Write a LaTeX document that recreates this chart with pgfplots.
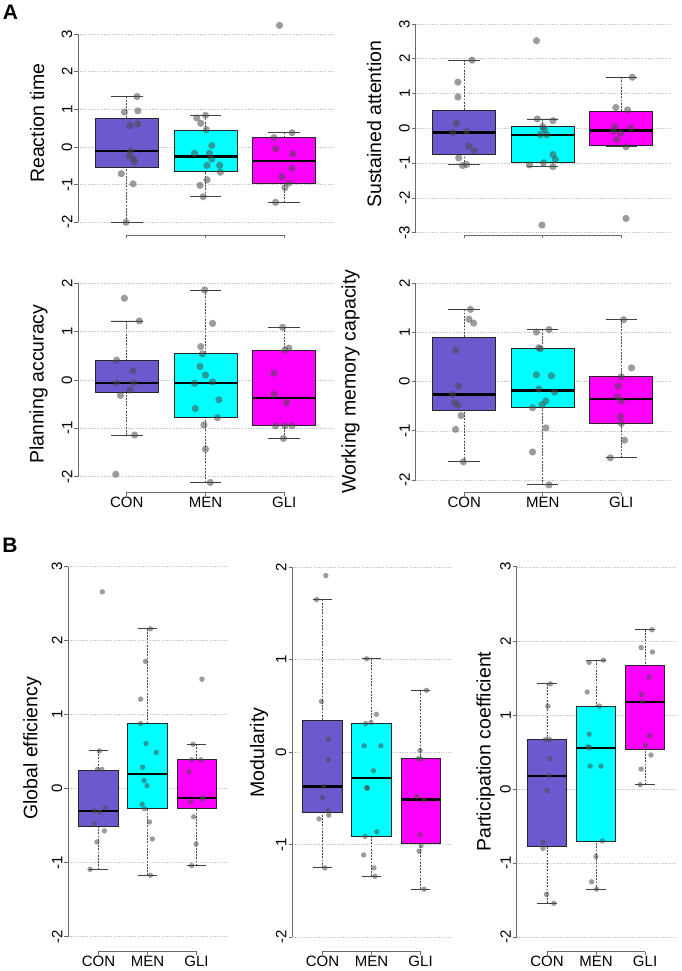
\documentclass[border=0pt]{standalone}
\usepackage{pgfplots}
\pgfplotsset{compat=1.18}
\usepgfplotslibrary{statistics}
\usepackage{fontspec}
\setmainfont{Liberation Sans}
\definecolor{conc}{HTML}{6A5ACD}
\definecolor{menc}{HTML}{00FFFF}
\definecolor{glic}{HTML}{FF00FF}
\definecolor{ptc}{HTML}{4A4A4A}
\definecolor{axc}{HTML}{6A6A6A}
\definecolor{gridc}{HTML}{C4C4C4}
\newcommand\tickfont{\fontsize{15bp}{16bp}\selectfont}
\newcommand\labfont{\fontsize{19.5bp}{22bp}\selectfont}
\pgfplotsset{
  rpanel/.style={
    scale only axis, clip=false, anchor=south west,
    xmin=0.38, xmax=3.62,
    axis x line*=bottom, axis y line*=left,
    axis line style={draw=none},
    xtick={1,2,3},
    tick align=outside, major tick length=3.5bp,
    tick style={axc, line width=0.8bp},
    ymajorgrids, grid style={gridc, dash pattern=on 1.2bp off 1.2bp, line width=0.6bp},
    yticklabel style={font=\tickfont, rotate=90, anchor=south, inner xsep=0pt, inner ysep=2bp},
    xticklabel style={font=\tickfont, anchor=north, inner sep=0pt, yshift=-1bp},
  },
  rbox/.style={
    draw=black!85, line width=0.8bp,
    boxplot/draw direction=y,
    boxplot/box extend=0.8, boxplot/whisker extend=0.4,
    boxplot/every median/.style={line width=2.2bp, draw=black},
    boxplot/draw/lower whisker/.code={%
      \draw[black!70, line width=0.7bp, dash pattern=on 1.8bp off 1.4bp]
        (boxplot box cs:\pgfplotsboxplotvalue{lower whisker},0.5) --
        (boxplot box cs:\pgfplotsboxplotvalue{lower quartile},0.5);
      \draw[black!75, line width=0.9bp]
        (boxplot whisker cs:\pgfplotsboxplotvalue{lower whisker},0) --
        (boxplot whisker cs:\pgfplotsboxplotvalue{lower whisker},1);
    },
    boxplot/draw/upper whisker/.code={%
      \draw[black!70, line width=0.7bp, dash pattern=on 1.8bp off 1.4bp]
        (boxplot box cs:\pgfplotsboxplotvalue{upper whisker},0.5) --
        (boxplot box cs:\pgfplotsboxplotvalue{upper quartile},0.5);
      \draw[black!75, line width=0.9bp]
        (boxplot whisker cs:\pgfplotsboxplotvalue{upper whisker},0) --
        (boxplot whisker cs:\pgfplotsboxplotvalue{upper whisker},1);
    },
  },
  ptsA/.style={only marks, mark=*, draw opacity=0, mark size=3.6bp, mark options={solid, draw opacity=0, fill=ptc, fill opacity=0.55}},
  ptsB/.style={only marks, mark=*, draw opacity=0, mark size=2.7bp, mark options={solid, draw opacity=0, fill=ptc, fill opacity=0.55}},
}
% draw position, lower whisker, lower quartile, median, upper quartile, upper whisker, colour
\newcommand\rb[7]{\addplot[rbox, fill=#7, boxplot prepared={draw position=#1, lower whisker=#2, lower quartile=#3, median=#4, upper quartile=#5, upper whisker=#6}] coordinates {};}
\begin{document}
\begin{tikzpicture}
\path[use as bounding box] (0,0) rectangle (682bp,971bp);

% ---------- A1 Reaction time
\begin{axis}[rpanel, at={(78bp,736bp)}, width=255bp, height=217.9bp,
  ymin=-2.337, ymax=3.45, ytick={-2,-1,0,1,2,3}, yticklabels={-2,-1,0,1,2,3}, xticklabels={,,}]
\rb{1}{-2.0}{-0.54}{-0.10}{0.77}{1.34}{conc}
\rb{2}{-1.32}{-0.66}{-0.25}{0.45}{0.84}{menc}
\rb{3}{-1.47}{-0.97}{-0.37}{0.25}{0.38}{glic}
\addplot[ptsA] coordinates {(1.13,1.34) (0.97,0.93) (1.14,0.96) (1.04,0.57) (1.14,0.61) (1.05,-0.10) (1.03,-0.23) (1.08,-0.32) (1.10,-0.39) (0.93,-0.71) (1.08,-0.98) (0.99,-2.00)
(1.89,0.77) (1.94,0.63) (2.00,0.84) (2.01,0.46) (2.08,0.04) (1.86,-0.17) (2.05,-0.17) (2.08,-0.32) (2.02,-0.49) (2.18,-0.49) (2.19,-0.67) (2.02,-0.87) (1.93,-1.02) (1.97,-1.32)
(2.94,3.23) (3.10,0.38) (2.87,0.25) (2.89,-0.05) (3.11,-0.18) (3.10,-0.57) (2.97,-0.79) (3.06,-0.96) (3.01,-1.08) (2.89,-1.47)};
\draw[axc, line width=0.8bp] (axis cs:0.38,-2) -- (axis cs:0.38,3);
\draw[axc, line width=0.8bp] (axis cs:1,-2.337) -- (axis cs:3,-2.337);
\end{axis}

% ---------- A2 Sustained attention
\begin{axis}[rpanel, at={(415.5bp,736bp)}, width=254.5bp, height=221.4bp,
  ymin=-3.066, ymax=3.3, ytick={-3,-2,-1,0,1,2,3}, yticklabels={-3,-2,-1,0,1,2,3}, xticklabels={,,}]
\rb{1}{-1.05}{-0.74}{-0.12}{0.53}{1.96}{conc}
\rb{2}{-1.10}{-0.98}{-0.18}{0.05}{0.27}{menc}
\rb{3}{-0.53}{-0.50}{-0.06}{0.49}{1.47}{glic}
\addplot[ptsA] coordinates {(1.10,1.96) (0.92,1.33) (0.92,0.90) (0.90,0.14) (0.85,-0.12) (1.03,-0.08) (1.06,-0.51) (1.13,-0.64) (0.93,-0.85) (0.98,-1.07) (1.03,-1.04)
(1.92,2.52) (1.93,0.27) (2.13,0.22) (2.00,0.05) (2.02,-0.03) (1.97,-0.18) (2.05,-0.18) (2.13,-0.75) (2.16,-0.89) (2.01,-0.99) (1.83,-1.05) (2.13,-1.10) (1.99,-2.78)
(3.14,1.47) (2.93,0.60) (3.08,0.53) (2.92,0.05) (3.12,0.01) (2.90,-0.08) (2.94,-0.32) (3.06,-0.53) (3.06,-2.59) (2.99,-0.14)};
\draw[axc, line width=0.8bp] (axis cs:0.38,-3) -- (axis cs:0.38,3);
\draw[axc, line width=0.8bp] (axis cs:1,-3.066) -- (axis cs:3,-3.066);
\end{axis}

% ---------- A3 Planning accuracy
\begin{axis}[rpanel, at={(78bp,478.7bp)}, width=255bp, height=213.9bp,
  ymin=-2.323, ymax=2.1, ytick={-2,-1,0,1,2}, yticklabels={-2,-1,0,1,2}, xticklabels={CON,MEN,GLI}]
\rb{1}{-1.14}{-0.26}{-0.06}{0.40}{1.22}{conc}
\rb{2}{-2.12}{-0.77}{-0.06}{0.54}{1.86}{menc}
\rb{3}{-1.21}{-0.95}{-0.37}{0.61}{1.09}{glic}
\addplot[ptsA] coordinates {(0.97,1.69) (1.16,1.22) (0.87,0.41) (1.08,0.19) (0.87,-0.06) (1.09,-0.06) (1.04,-0.21) (0.92,-0.32) (1.10,-1.14) (0.86,-1.95)
(1.99,1.86) (2.09,1.17) (1.94,0.69) (1.96,0.54) (1.93,0.28) (2.00,0.10) (1.86,-0.07) (2.09,-0.04) (2.17,-0.41) (1.87,-0.59) (2.15,-0.78) (1.98,-0.93) (2.00,-1.43) (2.06,-2.12)
(2.98,1.09) (3.06,0.66) (3.01,0.62) (2.87,0.14) (2.87,-0.30) (3.03,-0.47) (2.89,-0.95) (3.01,-0.95) (3.10,-0.95) (2.99,-1.21)};
\draw[axc, line width=0.8bp] (axis cs:0.38,-2) -- (axis cs:0.38,2);
\draw[axc, line width=0.8bp] (axis cs:1,-2.323) -- (axis cs:3,-2.323);
\end{axis}

% ---------- A4 Working memory capacity
\begin{axis}[rpanel, at={(415.5bp,478.3bp)}, width=254.5bp, height=214.3bp,
  ymin=-2.258, ymax=2.1, ytick={-2,-1,0,1,2}, yticklabels={-2,-1,0,1,2}, xticklabels={CON,MEN,GLI}]
\rb{1}{-1.63}{-0.58}{-0.26}{0.90}{1.47}{conc}
\rb{2}{-2.10}{-0.53}{-0.18}{0.68}{1.06}{menc}
\rb{3}{-1.55}{-0.85}{-0.35}{0.10}{1.26}{glic}
\addplot[ptsA] coordinates {(1.08,1.47) (1.06,1.27) (1.12,1.19) (0.89,0.64) (0.93,-0.09) (0.85,-0.26) (0.88,-0.43) (0.92,-0.48) (0.96,-0.69) (0.89,-0.97) (0.99,-1.63)
(2.08,1.06) (1.92,1.01) (1.95,0.69) (1.97,0.67) (1.92,0.14) (2.11,0.12) (1.95,-0.15) (2.15,-0.21) (2.04,-0.39) (1.99,-0.47) (1.87,-0.53) (2.04,-0.94) (1.87,-1.43) (2.08,-2.10)
(3.03,1.26) (3.13,0.28) (3.00,0.10) (2.96,-0.09) (2.95,-0.31) (3.00,-0.39) (2.99,-0.71) (3.00,-0.85) (3.04,-1.19) (2.86,-1.55)};
\draw[axc, line width=0.8bp] (axis cs:0.38,-2) -- (axis cs:0.38,2);
\draw[axc, line width=0.8bp] (axis cs:1,-2.258) -- (axis cs:3,-2.258);
\end{axis}

% ---------- B1 Global efficiency
\begin{axis}[rpanel, at={(68bp,19.3bp)}, width=159bp, height=392.4bp,
  ymin=-2.203, ymax=3.1, ytick={-2,-1,0,1,2,3}, yticklabels={-2,-1,0,1,2,3}, xticklabels={CON,MEN,GLI}]
\rb{1}{-1.09}{-0.51}{-0.30}{0.25}{0.51}{conc}
\rb{2}{-1.17}{-0.27}{0.20}{0.88}{2.16}{menc}
\rb{3}{-1.04}{-0.27}{-0.13}{0.39}{0.60}{glic}
\addplot[ptsB] coordinates {(1.08,2.66) (1.02,0.51) (0.98,0.26) (1.07,0.26) (0.92,-0.30) (1.03,-0.32) (1.14,-0.26) (0.92,-0.47) (1.12,-0.57) (0.97,-0.72) (0.83,-1.09)
(2.06,2.16) (1.96,1.72) (1.86,1.21) (1.86,0.88) (1.97,0.61) (2.18,0.49) (1.90,0.29) (1.93,0.11) (1.99,0.04) (1.89,-0.21) (1.94,-0.27) (2.04,-0.45) (2.10,-0.68) (2.06,-1.17)
(3.11,1.48) (2.93,0.60) (2.90,0.39) (3.09,0.39) (2.85,0.23) (2.88,-0.18) (3.11,-0.13) (3.14,-0.13) (2.94,-0.38) (2.99,-0.75) (2.90,-1.04)};
\draw[axc, line width=0.8bp] (axis cs:0.38,-2) -- (axis cs:0.38,3);
\draw[axc, line width=0.8bp] (axis cs:1,-2.203) -- (axis cs:3,-2.203);
\end{axis}

% ---------- B2 Modularity
\begin{axis}[rpanel, at={(292bp,19.3bp)}, width=159bp, height=393.7bp,
  ymin=-2.156, ymax=2.1, ytick={-2,-1,0,1,2}, yticklabels={-2,-1,0,1,2}, xticklabels={CON,MEN,GLI}]
\rb{1}{-1.25}{-0.65}{-0.37}{0.34}{1.65}{conc}
\rb{2}{-1.34}{-0.91}{-0.28}{0.31}{1.01}{menc}
\rb{3}{-1.48}{-0.98}{-0.51}{-0.07}{0.67}{glic}
\addplot[ptsB] coordinates {(1.07,1.91) (0.88,1.65) (0.98,0.55) (1.12,0.14) (1.12,-0.08) (1.02,-0.37) (1.00,-0.49) (1.12,-0.63) (1.13,-0.68) (0.93,-0.72) (1.05,-1.25)
(1.90,1.01) (2.10,0.41) (1.88,0.31) (1.99,0.32) (1.85,0.07) (2.19,0.07) (2.04,-0.20) (1.90,-0.38) (1.92,-0.39) (2.11,-0.86) (1.87,-0.91) (1.84,-1.11) (2.05,-1.25) (2.07,-1.34)
(3.12,0.67) (2.99,0.02) (2.95,-0.07) (3.00,-0.07) (2.93,-0.48) (3.07,-0.52) (2.99,-0.89) (3.01,-1.01) (2.97,-1.07) (3.07,-1.48)};
\draw[axc, line width=0.8bp] (axis cs:0.38,-2) -- (axis cs:0.38,2);
\draw[axc, line width=0.8bp] (axis cs:1,-2.156) -- (axis cs:3,-2.156);
\end{axis}

% ---------- B3 Participation coefficient
\begin{axis}[rpanel, at={(516.5bp,19.3bp)}, width=159bp, height=392.3bp,
  ymin=-2.194, ymax=3.1, ytick={-2,-1,0,1,2,3}, yticklabels={-2,-1,0,1,2,3}, xticklabels={CON,MEN,GLI}]
\rb{1}{-1.54}{-0.77}{0.18}{0.67}{1.42}{conc}
\rb{2}{-1.36}{-0.70}{0.56}{1.12}{1.74}{menc}
\rb{3}{0.06}{0.53}{1.18}{1.67}{2.15}{glic}
\addplot[ptsB] coordinates {(1.07,1.42) (1.02,1.12) (0.97,0.67) (1.05,0.67) (1.06,0.41) (1.04,0.18) (1.00,-0.02) (0.92,-0.72) (0.92,-0.80) (0.99,-1.42) (1.14,-1.54)
(1.86,1.71) (2.15,1.74) (1.82,1.31) (2.07,1.12) (1.86,0.74) (1.83,0.57) (1.87,0.56) (1.88,0.31) (2.10,0.31) (2.13,-0.70) (2.00,-0.91) (1.91,-1.25) (2.01,-1.35)
(3.14,2.15) (2.92,1.91) (3.15,1.85) (3.08,1.51) (2.93,1.28) (2.95,1.18) (3.09,0.72) (3.01,0.59) (3.12,0.46) (2.92,0.27) (2.90,0.06)};
\draw[axc, line width=0.8bp] (axis cs:0.38,-2) -- (axis cs:0.38,3);
\draw[axc, line width=0.8bp] (axis cs:1,-2.194) -- (axis cs:3,-2.194);
\end{axis}

% ---------- axis titles
\node[rotate=90, anchor=base, font=\labfont, inner sep=0pt] at (44bp,847.7bp) {Reaction time};
\node[rotate=90, anchor=base, font=\labfont, inner sep=0pt] at (381.2bp,846.8bp) {Sustained attention};
\node[rotate=90, anchor=base, font=\labfont, inner sep=0pt] at (43.5bp,586.8bp) {Planning accuracy};
\node[rotate=90, anchor=base, font=\labfont, inner sep=0pt] at (355.7bp,589.5bp) {Working memory capacity};
\node[rotate=90, anchor=base, font=\labfont, inner sep=0pt] at (37.3bp,222.7bp) {Global efficiency};
\node[rotate=90, anchor=base, font=\labfont, inner sep=0pt] at (264bp,218.5bp) {Modularity};
\node[rotate=90, anchor=base, font=\labfont, inner sep=0pt] at (490.7bp,219.3bp) {Participation coefficient};
\node[font=\fontsize{21bp}{24bp}\selectfont\bfseries, inner sep=0pt] at (10.5bp,958.5bp) {A};
\node[font=\fontsize{21bp}{24bp}\selectfont\bfseries, inner sep=0pt] at (10bp,426bp) {B};
\end{tikzpicture}
\end{document}
